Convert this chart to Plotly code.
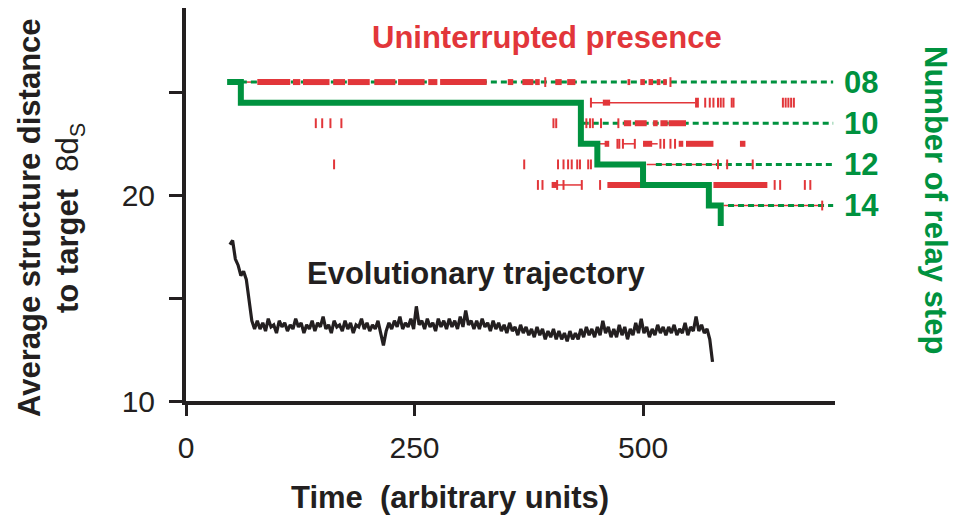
import plotly.graph_objects as go

# ---------------- data ----------------
# Evolutionary trajectory (average structure distance), sampled every 3 time units from t=48
traj_t0 = 48
traj_dt = 3
traj_y = [
    17.6, 17.8, 16.9, 16.6, 16.1, 16.3, 15.9, 14.8, 13.9, 13.5,
    13.9, 13.5, 13.8, 13.4, 14.0, 13.6, 13.7, 13.3, 13.9, 13.6,
    13.8, 13.4, 13.7, 13.5, 14.0, 13.6, 13.8, 13.3, 13.7, 13.5,
    13.9, 13.4, 13.8, 13.6, 14.1, 13.5, 13.7, 13.3, 13.9, 13.6,
    13.7, 13.4, 13.9, 13.5, 13.8, 13.3, 13.7, 13.6, 14.0, 13.5,
    13.8, 13.4, 13.7, 13.5, 13.9, 13.3, 12.7, 13.4, 13.8, 13.5,
    13.9, 13.6, 14.1, 13.5, 13.8, 13.6, 14.0, 13.5, 14.6, 13.7,
    13.9, 13.5, 14.0, 13.6, 13.8, 13.4, 14.0, 13.6, 13.9, 13.5,
    14.0, 13.6, 13.9, 13.5, 14.1, 13.6, 14.4, 13.7, 13.9, 13.5,
    13.9, 13.5, 14.0, 13.6, 13.8, 13.4, 13.9, 13.5, 13.8, 13.4,
    13.7, 13.3, 13.8, 13.4, 13.6, 13.2, 13.7, 13.3, 13.6, 13.2,
    13.5, 13.1, 13.6, 13.2, 13.5, 13.0, 13.4, 13.1, 13.5, 13.0,
    13.4, 13.0, 13.3, 12.9, 13.4, 13.0, 13.3, 13.0, 13.5, 13.1,
    13.6, 13.2, 13.5, 13.1, 13.6, 13.2, 13.9, 13.3, 13.6, 13.1,
    13.5, 13.1, 13.7, 13.2, 13.6, 13.0, 13.5, 13.2, 13.8, 13.3,
    14.0, 13.3, 13.6, 13.1, 13.5, 13.2, 13.7, 13.3, 13.6, 13.2,
    13.6, 13.3, 13.7, 13.2, 13.5, 13.3, 13.8, 13.2, 13.6, 13.4,
    14.1, 13.4, 13.7, 13.3, 13.5, 13.0, 11.9,
]
traj_t = [traj_t0 + traj_dt * i for i in range(len(traj_y))]

# Relay step of the evolving population (step line)
step_t = [45, 60, 432, 450, 500, 572, 585]
step_n = [8, 9, 11, 12, 13, 14, 15]

# Labelled relay steps (dashed guide lines)
guide_steps = [8, 10, 12, 14]
guide_start = [60, 434, 514, 593]
guide_end = 708

# Uninterrupted presence of each relay step structure
presence_blocks = {
    8: [(78, 114), (117, 125), (128, 157), (161, 174), (177, 201), (206, 229),
        (232, 261), (265, 275), (278, 329), (352, 358), (368, 380), (382, 387),
        (404, 411), (417, 426), (483, 486), (497, 502), (506, 511), (515, 519),
        (522, 526)],
    9: [(456, 464)],
    10: [(479, 487), (491, 504), (511, 516), (519, 527), (528, 547)],
    11: [(458, 463), (500, 510), (539, 544), (547, 577), (606, 612)],
    13: [(400, 406), (461, 499), (577, 636)],
}
presence_thin = {
    8: [(66, 78)],
    9: [(443, 557)],
    11: [(451, 459), (478, 491), (500, 516)],
    12: [(504, 582)],
    13: [(406, 433)],
    14: [(588, 696)],
}
presence_ticks = {
    8: [393, 530],
    9: [443, 558, 560, 568, 573, 577, 582, 585, 588, 597, 599,
        653, 656, 659, 662, 665],
    10: [142, 149, 158, 170, 402, 405, 438, 442, 445, 454, 473],
    11: [472, 474, 478, 491, 519, 523, 530, 535],
    12: [162, 370, 407, 413, 418, 422, 428, 431, 440, 443, 582, 592, 620],
    13: [385, 390, 406, 413, 433, 453, 644, 650, 677, 683],
    14: [696],
}

x_ticks = [0, 250, 500]
y_ticks = [10, 20]
y_minor_ticks = [15, 25]
step_ticks = [8, 10, 12, 14]
step_ticktext = ["08", "10", "12", "14"]

# ---------------- styling ----------------
RED = "#e2363a"
GREEN = "#00923f"
BLACK = "#231f20"
FONT = "Liberation Sans, Arial, sans-serif"


def segments(d):
    xs, ys = [], []
    for row, spans in d.items():
        for a, b in spans:
            xs += [a, b, None]
            ys += [row, row, None]
    return xs, ys


def points(d):
    xs, ys = [], []
    for row, vals in d.items():
        for v in vals:
            xs.append(v)
            ys.append(row)
    return xs, ys


fig = go.Figure()

tx, ty = segments(presence_thin)
fig.add_trace(go.Scatter(x=tx, y=ty, yaxis="y2", mode="lines",
                         line=dict(color=RED, width=1.5), hoverinfo="skip"))

gx, gy = [], []
for s, st in zip(guide_steps, guide_start):
    gx += [st, guide_end, None]
    gy += [s, s, None]
fig.add_trace(go.Scatter(x=gx, y=gy, yaxis="y2", mode="lines",
                         line=dict(color=GREEN, width=3, dash="6px,4px"), hoverinfo="skip"))

bx, by = segments(presence_blocks)
fig.add_trace(go.Scatter(x=bx, y=by, yaxis="y2", mode="lines",
                         line=dict(color=RED, width=6), hoverinfo="skip"))

px_, py_ = points(presence_ticks)
fig.add_trace(go.Scatter(x=px_, y=py_, yaxis="y2", mode="markers",
                         marker=dict(symbol="line-ns", size=7,
                                     line=dict(color=RED, width=2)),
                         hoverinfo="skip"))

fig.add_trace(go.Scatter(x=step_t, y=step_n, yaxis="y2", mode="lines",
                         line=dict(color=GREEN, width=6, shape="hv"), hoverinfo="skip"))

fig.add_trace(go.Scatter(x=traj_t, y=traj_y, mode="lines",
                         line=dict(color=BLACK, width=3.2), hoverinfo="skip"))

W, H = 958, 520
L, R, T, B = 186, 123, 8, 119
pw, ph = W - L - R, H - T - B


def paper(xpx, ypx):
    return (xpx - L) / pw, (H - B - ypx) / ph


annots = []
def add_text(text, xpx, ypx, color, size=31, angle=0, bold=True):
    xp, yp = paper(xpx, ypx)
    annots.append(dict(text=text, x=xp, y=yp, xref="paper", yref="paper",
                       xanchor="center", yanchor="middle", showarrow=False,
                       textangle=angle,
                       font=dict(family=FONT, size=size, color=color,
                                 weight="bold" if bold else "normal")))

add_text("Uninterrupted presence", 547, 37, RED)
add_text("Evolutionary trajectory", 476, 273, BLACK)
add_text("Time  (arbitrary units)", 450, 497, BLACK)
add_text("Average structure distance", 29, 218, BLACK, angle=-90)
add_text("<b>to target  </b>8d<sub>S</sub>", 70, 218, BLACK, angle=-90, bold=False)
add_text("Number of relay step", 936, 200, GREEN, angle=90)

fig.update_layout(
    width=W, height=H,
    margin=dict(l=L, r=R, t=T, b=B, pad=0),
    paper_bgcolor="white", plot_bgcolor="white",
    showlegend=False,
    font=dict(family=FONT, color=BLACK),
    annotations=annots,
    xaxis=dict(range=[0, 710], tickvals=x_ticks, showline=True, linewidth=4,
               linecolor=BLACK, ticks="outside", ticklen=11, tickwidth=3,
               tickcolor=BLACK, showgrid=False, zeroline=False,
               tickfont=dict(size=30, color=BLACK), ticklabelstandoff=6),
    yaxis=dict(range=[10, 29.1], tickvals=y_ticks,
               showline=True, linewidth=4, linecolor=BLACK, ticks="outside",
               ticklen=13, tickwidth=3, tickcolor=BLACK, showgrid=False,
               zeroline=False, tickfont=dict(size=30, color=BLACK),
               ticklabelstandoff=8,
               minor=dict(tickvals=y_minor_ticks, ticks="outside", ticklen=13,
                          tickwidth=3, tickcolor=BLACK, showgrid=False)),
    yaxis2=dict(overlaying="y", side="right", anchor="x", range=[23.5, 4.4],
                tickvals=step_ticks, ticktext=step_ticktext, showline=False,
                ticks="", showgrid=False, zeroline=False,
                tickfont=dict(size=31, color=GREEN, weight="bold"),
                ticklabelstandoff=8),
)

fig.write_html("out.html")
